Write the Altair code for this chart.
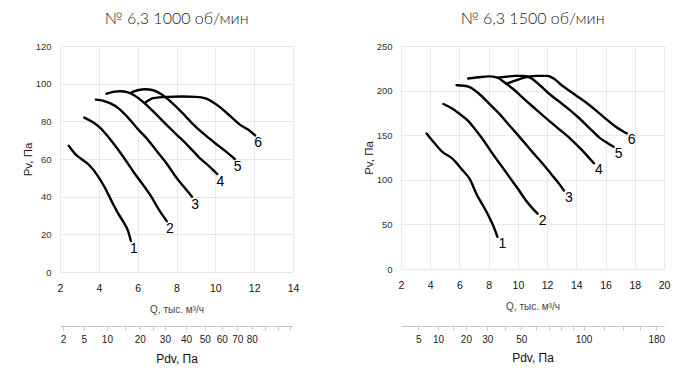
import altair as alt
import pandas as pd

# ---------------- data: 1000 rpm ----------------
q1_a = [2.45, 2.8, 3.1, 3.5, 3.9, 4.3, 4.7, 5.0, 5.3, 5.5, 5.65]
p1_a = [67, 62.5, 60, 56.8, 51.7, 45, 36.8, 31, 26, 22, 16.5]
q2_a = [3.25, 3.7, 4.1, 4.5, 4.9, 5.3, 5.8, 6.3, 6.7, 7.1, 7.5]
p2_a = [82, 79.5, 76.3, 71.5, 66.2, 60.5, 53, 46, 40, 33, 27]
q3_a = [3.85, 4.2, 4.6, 5.0, 5.5, 6.0, 6.5, 7.0, 7.5, 8.0, 8.4, 8.8]
p3_a = [91.5, 91, 89.5, 87, 82, 76, 70.5, 64, 57.5, 50, 45, 40]
q4_a = [4.4, 4.8, 5.1, 5.5, 5.8, 6.2, 6.8, 7.4, 8.0, 8.6, 9.2, 9.7, 10.1]
p4_a = [94.7, 95.8, 96, 95.4, 94, 91, 85.3, 79, 73, 67, 60.5, 56, 52]
q5_a = [5.7, 6.0, 6.4, 6.8, 7.2, 7.7, 8.3, 8.9, 9.5, 10.1, 10.6, 11.0]
p5_a = [95.5, 96.5, 97, 96.5, 94.5, 90.5, 84.5, 78, 72.5, 67.5, 63.5, 60]
q6_a = [6.4, 6.8, 7.5, 8.3, 9.0, 9.5, 9.9, 10.3, 10.8, 11.3, 11.7, 12.05]
p6_a = [90, 92.3, 93, 93.2, 93, 92.2, 90, 87, 82.5, 78, 75.5, 72.5]

# ---------------- data: 1500 rpm ----------------
q1_b = [3.75, 4.3, 4.85, 5.5, 6.2, 6.7, 7.2, 7.6, 8.0, 8.3, 8.6]
p1_b = [152, 141, 131, 124, 111, 101, 83, 71.5, 59.5, 49, 36]
q2_b = [4.9, 5.5, 6.0, 6.6, 7.1, 7.7, 8.3, 8.9, 9.4, 10.0, 10.5, 11.0, 11.35]
p2_b = [185, 180, 174, 166, 156, 143, 128.5, 115, 103.5, 90, 78, 68, 62]
q3_b = [5.8, 6.3, 6.7, 7.3, 8.0, 8.7, 9.5, 10.3, 11.0, 11.7, 12.3, 12.8, 13.15]
p3_b = [206, 205.5, 204, 197, 186, 174.5, 159.5, 144.5, 131, 118, 106, 96, 88]
q4_b = [6.6, 7.3, 8.0, 8.6, 9.1, 9.7, 10.4, 11.2, 12.0, 12.8, 13.6, 14.4, 15.2]
p4_b = [213.5, 215, 216, 214.5, 209, 201.5, 191, 179.5, 168, 157, 146, 133, 118.5]
q5_b = [8.6, 9.2, 9.8, 10.4, 10.9, 11.5, 12.1, 12.8, 13.5, 14.2, 14.9, 15.6, 16.1, 16.55]
p5_b = [214.5, 215.5, 216.5, 216.5, 214, 206, 197, 188, 179, 169, 158, 147, 141.5, 137]
q6_b = [9.2, 9.7, 10.2, 10.7, 11.3, 12.0, 12.5, 13.0, 13.6, 14.2, 14.8, 15.4, 16.0, 16.7, 17.45]
p6_b = [207.5, 210.5, 213.5, 215.5, 216.5, 216.5, 213, 206, 199, 192, 185, 177, 168.5, 159.5, 152]

curve_names = ["1", "2", "3", "4", "5", "6"]

# axes
q_ticks_a = [2, 4, 6, 8, 10, 12, 14]
p_ticks_a = [0, 20, 40, 60, 80, 100, 120]
q_ticks_b = [2, 4, 6, 8, 10, 12, 14, 16, 18, 20]
p_ticks_b = [0, 50, 100, 150, 200, 250]
pdv_ticks_a = [2, 5, 10, 15, 20, 25, 30, 40, 50, 60, 70, 80, 90, 100, 110]
pdv_labels_a = [2, 5, 10, 20, 30, 40, 50, 60, 70, 80]
pdv_ticks_b = [5, 10, 15, 20, 30, 40, 50, 60, 70, 80, 90, 100, 120, 140, 160, 180]
pdv_labels_b = [5, 10, 20, 30, 50, 100, 180]
pdv_domain_a = [1.66, 112.2]
pdv_domain_b = [2.03, 189.8]

title_a = "№ 6,3 1000 об/мин"
title_b = "№ 6,3 1500 об/мин"


def build_df(qs, ps):
    rows = []
    for name, q, p in zip(curve_names, qs, ps):
        for i, (qq, pp) in enumerate(zip(q, p)):
            rows.append({"curve": name, "i": i, "Q": qq, "P": pp})
    return pd.DataFrame(rows)


def ends_df(qs, ps):
    return pd.DataFrame({"label": curve_names,
                         "Q": [q[-1] for q in qs],
                         "P": [p[-1] for p in ps]})


FONT = "Liberation Sans"


def panel(qs, ps, qticks, pticks, pdv_domain, pdv_ticks, pdv_labels, title,
          w, h, title_offset, pdv_offset, lab_dx, lab_dy, pdv_title_pad):
    df = build_df(qs, ps)
    ends = ends_df(qs, ps)
    xs = alt.Scale(domain=[qticks[0], qticks[-1]], nice=False, zero=False)
    ys = alt.Scale(domain=[pticks[0], pticks[-1]], nice=False, zero=False)
    x_axis = alt.Axis(values=qticks, title="Q, тыс. м³/ч", grid=True,
                      domain=False, ticks=False, labelPadding=11, labelFlush=False,
                      labelFontSize=10.5, labelColor="#111",
                      titleFontSize=10, titleColor="#444",
                      titleFontWeight="normal", titlePadding=11,
                      labelFont=FONT, titleFont=FONT)
    y_axis = alt.Axis(values=pticks, title="Pv, Па", grid=True,
                      domain=False, ticks=False, labelPadding=9,
                      labelFontSize=9.5, labelColor="#333",
                      titleFontSize=11.5, titleColor="#222",
                      titleFontWeight="normal", titlePadding=2,
                      labelFont=FONT, titleFont=FONT)
    lines = alt.Chart(df).mark_line(color="black", strokeWidth=2.4,
                                    interpolate="monotone", strokeCap="round").encode(
        x=alt.X("Q:Q", scale=xs, axis=x_axis),
        y=alt.Y("P:Q", scale=ys, axis=y_axis),
        detail="curve:N",
        order="i:Q",
    )
    text = alt.Chart(ends).mark_text(fontSize=14, font=FONT, color="black",
                                     align="center", baseline="middle",
                                     dx=lab_dx, dy=lab_dy).encode(
        x=alt.X("Q:Q", scale=xs, axis=x_axis),
        y=alt.Y("P:Q", scale=ys, axis=y_axis),
        text="label:N",
    )
    lab_list = "[" + ",".join(str(v) for v in pdv_labels) + "]"
    pdv = alt.Chart(pd.DataFrame({"Pdv": pdv_ticks})).mark_point(opacity=0).encode(
        x=alt.X("Pdv:Q",
                scale=alt.Scale(type="sqrt", domain=pdv_domain, zero=False, nice=False),
                axis=alt.Axis(orient="bottom", offset=pdv_offset, values=pdv_ticks,
                              labelExpr="indexof(" + lab_list + ", datum.value) >= 0 ? datum.label : ''",
                              format="d", grid=False, domain=True, domainColor="#c8c8c8",
                              ticks=True, tickSize=4, tickColor="#c8c8c8",
                              labelFlush=False,
                              labelPadding=4, labelFontSize=10, labelColor="#222",
                              labelFont=FONT, title="Pdv, Па", titleFont=FONT,
                              titleFontSize=12, titleFontWeight="normal",
                              titleColor="#111", titlePadding=pdv_title_pad)),
    )
    return alt.layer(alt.layer(lines, text), pdv).resolve_scale(x="independent").properties(
        width=w, height=h,
        title=alt.TitleParams(title, offset=title_offset, font="Lato",
                              fontWeight=300, fontSize=16, color="#1a1a1a"),
    )


left = panel([q1_a, q2_a, q3_a, q4_a, q5_a, q6_a], [p1_a, p2_a, p3_a, p4_a, p5_a, p6_a],
             q_ticks_a, p_ticks_a, pdv_domain_a, pdv_ticks_a, pdv_labels_a, title_a,
             233, 226, 14, 54, 3, 8, 9)
right = panel([q1_b, q2_b, q3_b, q4_b, q5_b, q6_b], [p1_b, p2_b, p3_b, p4_b, p5_b, p6_b],
              q_ticks_b, p_ticks_b, pdv_domain_b, pdv_ticks_b, pdv_labels_b, title_b,
              263, 223, 14, 57, 5, 7, 8)

chart = alt.hconcat(left, right, spacing=64).properties(
    padding={"left": 14, "top": 3, "right": 5, "bottom": 5}
).configure_view(stroke=None).configure_axis(gridColor="#e8e8e8", gridWidth=1)

chart.save("out.html", embed_options={"renderer": "svg", "actions": False})
